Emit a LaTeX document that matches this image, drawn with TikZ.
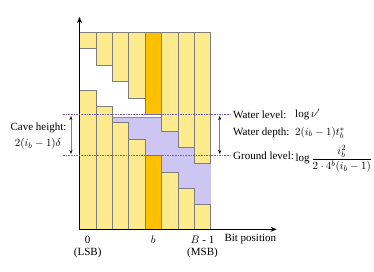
\documentclass[tikz,border=0pt]{standalone}
\usepackage{fontspec}
\setmainfont{Liberation Serif}
\usetikzlibrary{arrows.meta}
\definecolor{barY}{RGB}{252,234,140}
\definecolor{barO}{RGB}{255,192,0}
\definecolor{barE}{RGB}{125,125,125}
\definecolor{water}{RGB}{206,198,242}
\definecolor{waterE}{RGB}{140,128,210}
\definecolor{dashC}{RGB}{112,98,204}
\begin{document}
\begin{tikzpicture}[x=16.4pt,y=16.4pt, font=\fontsize{11}{13}\selectfont,
  bar/.style={draw=barE, line width=0.8pt},
  level/.style={dashC, line width=1pt, dash pattern=on 1.6pt off 1pt},
  span/.style={gray, line width=0.6pt, {Stealth[black,length=4pt,width=3pt]}-{Stealth[black,length=4pt,width=3pt]}, shorten <=1.5pt, shorten >=1.5pt},
  axis/.style={line width=1.4pt, {Stealth[length=6pt,width=5pt]}-{Stealth[length=6pt,width=5pt]}},
  lbl/.style={inner sep=0pt}]
\useasboundingbox (-79.5pt,-41.7pt) rectangle (294.5pt,229.3pt);
% water
\fill[water] (2,0) rectangle (8,6.85);
\coordinate (WtrL) at (2,6.85);
\coordinate (WtrR) at (8,6.85);
\draw[waterE, line width=0.8pt] (WtrL) -- (WtrR);
% bars
\foreach \i in {0,...,7} {
  \pgfmathsetmacro\up{11-\i}
  \pgfmathsetmacro\lo{8.5-\i}
  \ifnum\i=4 \def\fc{barO}\else\def\fc{barY}\fi
  \draw[bar, fill=\fc] (\i,\up) rectangle (\i+1,12);
  \draw[bar, fill=\fc] (\i,0) rectangle (\i+1,\lo);
}
% axes
\coordinate (O) at (0,0);
\coordinate (Ytip) at (0,12.95);
\coordinate (Xtip) at (12.02,0);
\draw[axis] (Ytip) |- (Xtip);
% levels
\coordinate (WL) at (-1.0,7);
\coordinate (WR) at (9.3,7);
\coordinate (GL) at (-1.0,4.5);
\coordinate (GR) at (9.3,4.5);
\draw[level] (WL) -- (WR);
\draw[level] (GL) -- (GR);
\coordinate (CaveT) at (-0.52,7);
\coordinate (CaveB) at (-0.52,4.5);
\coordinate (DepT) at (8.55,7);
\coordinate (DepB) at (8.55,4.5);
\draw[span] (CaveT) -- (CaveB);
\draw[span] (DepT) -- (DepB);
% right labels
\node[lbl, anchor=west] (wl) at (9.36,7) {Water level:};
\node[lbl, anchor=west] (wlm) at (13.14,7) {$\log\nu'$};
\node[lbl, anchor=west] (wd) at (9.36,5.9) {Water depth:};
\node[lbl, anchor=west] (wdm) at (13.14,5.9) {$2(i_b-1)t_b^*$};
\node[lbl, anchor=west] (gl) at (9.36,4.5) {Ground level:};
\node[lbl, anchor=west] (glm) at (13.16,4.3) {$\log\displaystyle\frac{i_b^2}{2\cdot 4^b(i_b-1)}$};
% left labels
\node[lbl] (ch) at (-41pt,101.2pt) {Cave height:};
\node[lbl] (chm) at (-41.5pt,85.3pt) {$2(i_b-1)\delta$};
% bottom labels
\node[lbl] (x0) at (0.5,-0.65) {0};
\node[lbl] (lsb) at (0.5,-1.45) {(LSB)};
\node[lbl] (xb) at (4.5,-0.65) {$b$};
\node[lbl] (xB) at (7.5,-0.65) {$B$ - 1};
\node[lbl] (msb) at (7.5,-1.45) {(MSB)};
\node[lbl, anchor=west] (bp) at (8.83,-0.62) {Bit position};
\end{tikzpicture}
\end{document}
